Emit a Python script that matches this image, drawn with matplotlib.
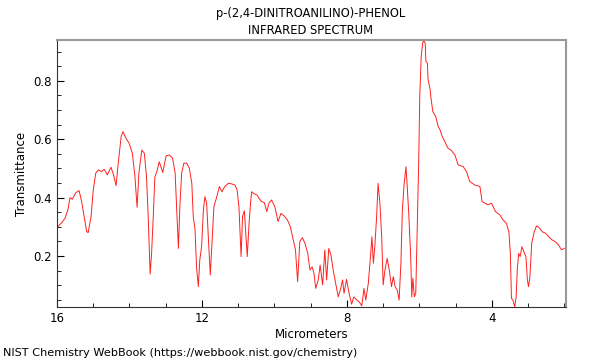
import numpy as np
import matplotlib
matplotlib.use("Agg")
import matplotlib.pyplot as plt
from matplotlib.ticker import MultipleLocator

# IR spectrum (wavelength in micrometers, transmittance)
wavelength = [
    16.00, 15.87, 15.78, 15.70, 15.64, 15.58, 15.48, 15.39, 15.32, 15.25,
    15.18, 15.14, 15.06, 15.00, 14.93, 14.86, 14.77, 14.70, 14.61, 14.51,
    14.44, 14.37, 14.31, 14.23, 14.18, 14.10, 14.01, 13.92, 13.85, 13.79,
    13.74, 13.66, 13.59, 13.53, 13.48, 13.43, 13.39, 13.34, 13.30, 13.23,
    13.18, 13.08, 12.99, 12.90, 12.81, 12.74, 12.70, 12.65, 12.61, 12.56,
    12.50, 12.42, 12.35, 12.28, 12.24, 12.19, 12.15, 12.10, 12.06, 12.01,
    11.96, 11.92, 11.87, 11.83, 11.77, 11.72, 11.67, 11.59, 11.52, 11.45,
    11.37, 11.27, 11.18, 11.09, 11.03, 10.98, 10.92, 10.88, 10.83, 10.79,
    10.75, 10.70, 10.66, 10.63, 10.56, 10.48, 10.43, 10.35, 10.28, 10.21,
    10.15, 10.08, 9.99, 9.90, 9.82, 9.73, 9.64, 9.56, 9.48, 9.42,
    9.36, 9.30, 9.23, 9.16, 9.08, 9.02, 8.96, 8.91, 8.86, 8.79,
    8.74, 8.67, 8.61, 8.56, 8.50, 8.44, 8.38, 8.31, 8.24, 8.17,
    8.12, 8.08, 8.01, 7.94, 7.87, 7.81, 7.73, 7.66, 7.59, 7.53,
    7.48, 7.41, 7.35, 7.31, 7.27, 7.23, 7.18, 7.14, 7.09, 7.04,
    7.00, 6.95, 6.89, 6.83, 6.77, 6.72, 6.67, 6.61, 6.56, 6.51,
    6.47, 6.42, 6.37, 6.33, 6.29, 6.24, 6.21, 6.18, 6.14, 6.10,
    6.06, 6.02, 5.99, 5.95, 5.91, 5.88, 5.84, 5.82, 5.78, 5.76,
    5.71, 5.68, 5.63, 5.55, 5.48, 5.43, 5.37, 5.30, 5.21, 5.13,
    5.02, 4.93, 4.79, 4.70, 4.61, 4.47, 4.33, 4.27, 4.19, 4.10,
    4.01, 3.90, 3.78, 3.69, 3.60, 3.53, 3.49, 3.46, 3.42, 3.37,
    3.33, 3.30, 3.26, 3.22, 3.17, 3.10, 3.06, 3.02, 2.99, 2.95,
    2.90, 2.83, 2.77, 2.70, 2.61, 2.52, 2.43, 2.34, 2.25, 2.16,
    2.08, 2.00,
]
transmittance = [
    0.298, 0.314, 0.329, 0.358, 0.400, 0.394, 0.417, 0.424, 0.386, 0.335,
    0.283, 0.280, 0.335, 0.426, 0.484, 0.495, 0.489, 0.497, 0.478, 0.504,
    0.478, 0.441, 0.518, 0.609, 0.626, 0.604, 0.586, 0.552, 0.472, 0.367,
    0.484, 0.563, 0.552, 0.472, 0.323, 0.138, 0.209, 0.346, 0.470, 0.495,
    0.523, 0.486, 0.543, 0.546, 0.535, 0.484, 0.369, 0.226, 0.369, 0.484,
    0.518, 0.518, 0.501, 0.449, 0.335, 0.289, 0.163, 0.095, 0.186, 0.232,
    0.358, 0.403, 0.381, 0.278, 0.135, 0.255, 0.369, 0.403, 0.438, 0.420,
    0.438, 0.449, 0.447, 0.443, 0.426, 0.369, 0.198, 0.335, 0.355, 0.278,
    0.198, 0.312, 0.380, 0.420, 0.413, 0.409, 0.398, 0.386, 0.383, 0.352,
    0.381, 0.392, 0.369, 0.318, 0.346, 0.337, 0.323, 0.300, 0.255, 0.221,
    0.112, 0.249, 0.263, 0.244, 0.209, 0.152, 0.163, 0.141, 0.089, 0.118,
    0.169, 0.101, 0.221, 0.118, 0.226, 0.203, 0.152, 0.106, 0.060, 0.089,
    0.118, 0.072, 0.120, 0.072, 0.035, 0.060, 0.049, 0.043, 0.029, 0.089,
    0.049, 0.106, 0.198, 0.266, 0.175, 0.232, 0.335, 0.449, 0.381, 0.266,
    0.101, 0.152, 0.192, 0.152, 0.095, 0.129, 0.095, 0.083, 0.049, 0.175,
    0.358, 0.449, 0.506, 0.426, 0.335, 0.198, 0.060, 0.124, 0.060, 0.072,
    0.289, 0.518, 0.746, 0.883, 0.929, 0.938, 0.929, 0.866, 0.861, 0.803,
    0.775, 0.741, 0.695, 0.678, 0.643, 0.632, 0.609, 0.592, 0.569, 0.563,
    0.546, 0.512, 0.506, 0.489, 0.455, 0.443, 0.438, 0.386, 0.381, 0.375,
    0.381, 0.352, 0.341, 0.323, 0.312, 0.283, 0.209, 0.055, 0.049, 0.026,
    0.060, 0.152, 0.209, 0.198, 0.232, 0.209, 0.198, 0.118, 0.095, 0.129,
    0.244, 0.283, 0.303, 0.298, 0.283, 0.278, 0.266, 0.255, 0.249, 0.238,
    0.221, 0.226,
]
x_ticks = [16, 12, 8, 4]

fig = plt.figure(figsize=(6, 3.6), dpi=100)
ax = fig.add_axes([0.095, 0.147, 0.848, 0.742])

ax.plot(wavelength, transmittance, color="#ff2020", linewidth=0.7)

ax.set_xlim(16, 1.96)
ax.set_ylim(0.025, 0.94)
ax.set_xticks(x_ticks)
ax.xaxis.set_minor_locator(MultipleLocator(1))
ax.yaxis.set_major_locator(MultipleLocator(0.2))
ax.yaxis.set_minor_locator(MultipleLocator(0.05))
ax.tick_params(which="both", direction="in", labelsize=8.5, top=False, right=False)
ax.tick_params(which="major", length=5)
ax.tick_params(which="minor", length=3)

for side in ["top", "right"]:
    ax.spines[side].set_color("#999999")
    ax.spines[side].set_linewidth(1.5)
for side in ["left", "bottom"]:
    ax.spines[side].set_color("#333333")

ax.set_xlabel("Micrometers", fontsize=8.5, labelpad=2)
ax.set_ylabel("Transmittance", fontsize=8.5)

fig.text(0.517, 0.962, "p-(2,4-DINITROANILINO)-PHENOL", ha="center", va="center", fontsize=8.3)
fig.text(0.517, 0.915, "INFRARED SPECTRUM", ha="center", va="center", fontsize=8.3)
fig.text(0.005, 0.02, "NIST Chemistry WebBook (https://webbook.nist.gov/chemistry)",
         ha="left", va="center", fontsize=8.1)

fig.savefig("out.png", dpi=100)
